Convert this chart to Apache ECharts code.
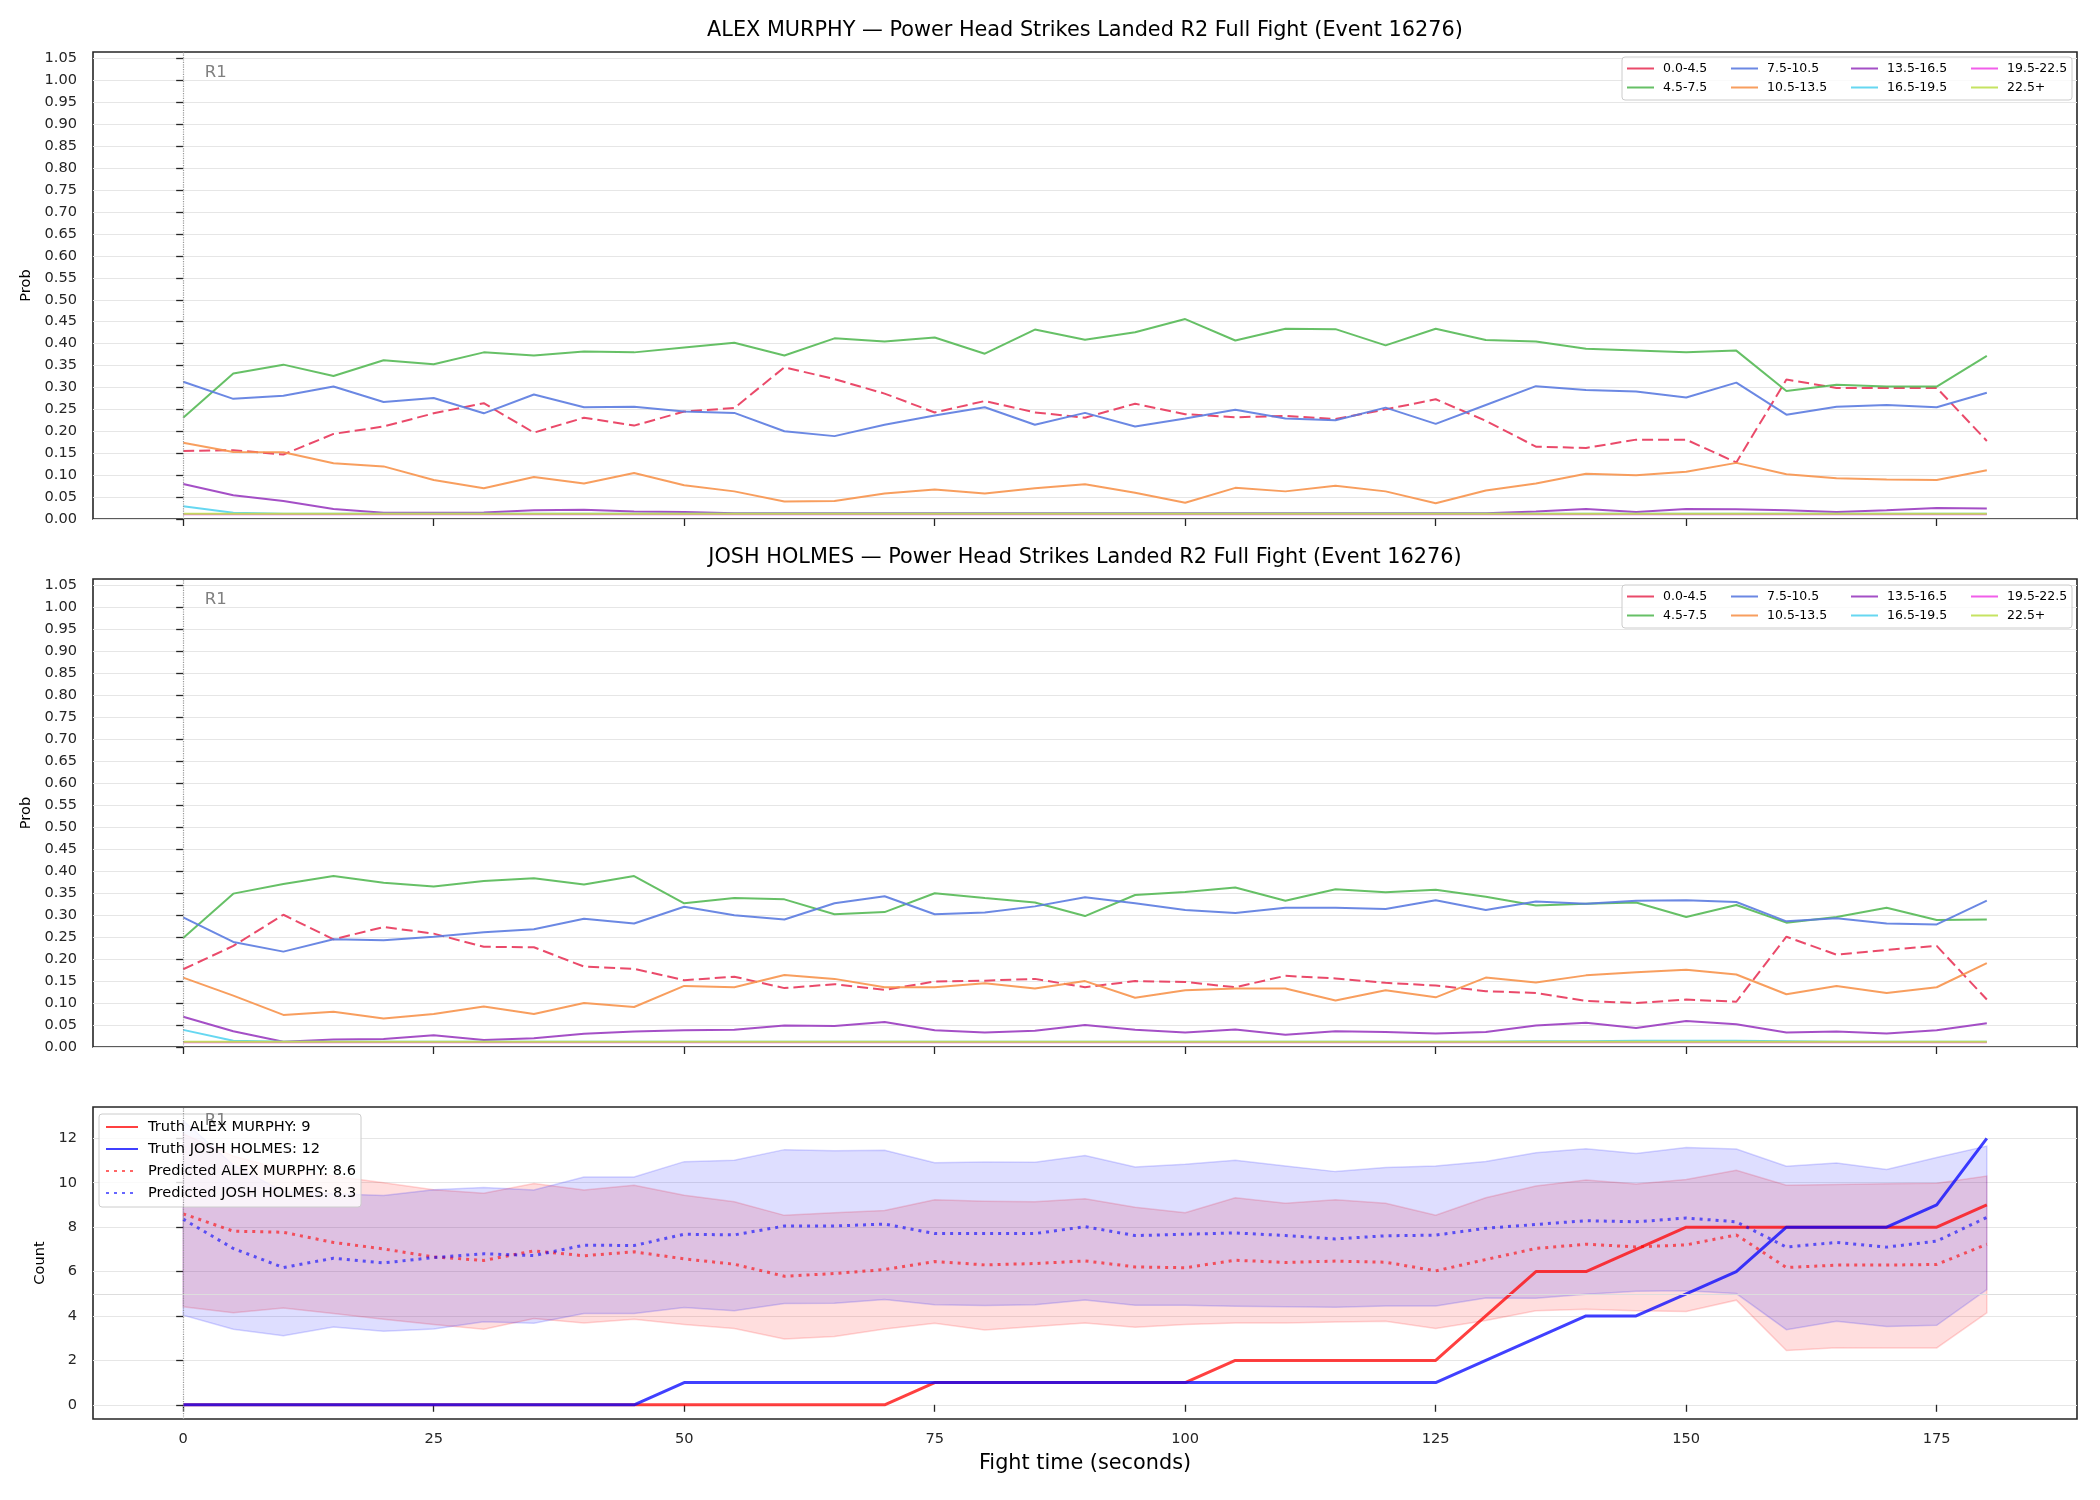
<!DOCTYPE html>
<html>
<head>
<meta charset="utf-8">
<title>Power Head Strikes Landed R2</title>
<script src="https://cdn.jsdelivr.net/npm/echarts@6/dist/echarts.min.js"></script>
<style>
  html, body { margin: 0; padding: 0; background: #fff; }
  #chart { width: 2100px; height: 1500px; }
</style>
</head>
<body>
<div id="chart"></div>
<script>
const EVENT_LABEL = 'Power Head Strikes Landed R2 Full Fight (Event 16276)';
const FIGHTERS = ['ALEX MURPHY', 'JOSH HOLMES'];

// fight time, seconds
const TIMES = [0, 5, 10, 15, 20, 25, 30, 35, 40, 45, 50, 55, 60, 65, 70, 75, 80, 85, 90,
  95, 100, 105, 110, 115, 120, 125, 130, 135, 140, 145, 150, 155, 160, 165, 170, 175, 180];
const X_TICKS = [0, 25, 50, 75, 100, 125, 150, 175];
const PROB_TICKS = [0, 0.05, 0.1, 0.15, 0.2, 0.25, 0.3, 0.35, 0.4, 0.45, 0.5, 0.55, 0.6, 0.65,
  0.7, 0.75, 0.8, 0.85, 0.9, 0.95, 1.0, 1.05];
const COUNT_TICKS = [0, 2, 4, 6, 8, 10, 12];
const ROUNDS = [{ t: 0, label: 'R1' }];

const BINS = ['0.0-4.5', '4.5-7.5', '7.5-10.5', '10.5-13.5', '13.5-16.5', '16.5-19.5', '19.5-22.5', '22.5+'];

// ALEX MURPHY bin probabilities
const A_0 = [0.155,0.157,0.147,0.194,0.211,0.241,0.264,0.197,0.231,0.213,0.245,0.253,0.346,0.319,0.286,0.243,0.269,0.243,0.231,0.263,0.239,0.232,0.235,0.228,0.250,0.273,0.224,0.165,0.162,0.181,0.181,0.129,0.318,0.299,0.299,0.299,0.178];
const A_1 = [0.231,0.332,0.352,0.326,0.362,0.353,0.380,0.373,0.382,0.380,0.391,0.402,0.373,0.412,0.405,0.414,0.377,0.432,0.409,0.426,0.456,0.407,0.434,0.433,0.396,0.434,0.408,0.405,0.388,0.384,0.380,0.384,0.292,0.306,0.302,0.302,0.372];
const A_2 = [0.313,0.274,0.281,0.302,0.267,0.276,0.241,0.284,0.255,0.256,0.245,0.242,0.200,0.189,0.215,0.236,0.255,0.215,0.242,0.211,0.229,0.249,0.229,0.225,0.254,0.217,0.260,0.303,0.294,0.291,0.277,0.311,0.238,0.256,0.260,0.255,0.288];
const A_3 = [0.174,0.153,0.152,0.127,0.120,0.089,0.070,0.096,0.081,0.105,0.077,0.063,0.040,0.041,0.058,0.067,0.058,0.070,0.079,0.060,0.037,0.071,0.063,0.076,0.063,0.036,0.065,0.081,0.103,0.100,0.108,0.128,0.102,0.093,0.090,0.089,0.111];
const A_4 = [0.080,0.054,0.041,0.023,0.014,0.014,0.015,0.020,0.021,0.017,0.016,0.013,0.013,0.013,0.013,0.013,0.013,0.013,0.013,0.013,0.013,0.013,0.013,0.013,0.013,0.013,0.013,0.017,0.023,0.016,0.023,0.022,0.020,0.016,0.020,0.025,0.024];
const A_5 = [0.029,0.014,0.012,0.012,0.012,0.012,0.012,0.012,0.012,0.012,0.012,0.012,0.012,0.012,0.012,0.012,0.012,0.012,0.012,0.012,0.012,0.012,0.012,0.012,0.012,0.012,0.012,0.012,0.012,0.012,0.012,0.012,0.012,0.012,0.012,0.012,0.012];
const A_6 = [0.011,0.011,0.011,0.011,0.011,0.011,0.011,0.011,0.011,0.011,0.011,0.011,0.011,0.011,0.011,0.011,0.011,0.011,0.011,0.011,0.011,0.011,0.011,0.011,0.011,0.011,0.011,0.011,0.011,0.011,0.011,0.011,0.011,0.011,0.011,0.011,0.011];
const A_7 = [0.012,0.012,0.012,0.012,0.012,0.012,0.012,0.012,0.012,0.012,0.012,0.012,0.012,0.012,0.012,0.012,0.012,0.012,0.012,0.012,0.012,0.012,0.012,0.012,0.012,0.012,0.012,0.012,0.012,0.012,0.012,0.012,0.012,0.012,0.012,0.012,0.012];

// JOSH HOLMES bin probabilities
const J_0 = [0.177,0.230,0.301,0.245,0.273,0.258,0.228,0.227,0.183,0.178,0.152,0.160,0.134,0.143,0.130,0.149,0.151,0.155,0.136,0.150,0.148,0.136,0.162,0.156,0.146,0.140,0.127,0.123,0.105,0.100,0.108,0.103,0.251,0.210,0.221,0.230,0.108];
const J_1 = [0.248,0.349,0.371,0.389,0.374,0.365,0.378,0.384,0.370,0.389,0.327,0.339,0.336,0.302,0.307,0.350,0.339,0.329,0.298,0.346,0.353,0.363,0.333,0.359,0.352,0.358,0.342,0.322,0.326,0.329,0.296,0.323,0.283,0.296,0.317,0.289,0.290];
const J_2 = [0.295,0.239,0.217,0.245,0.243,0.251,0.261,0.268,0.292,0.281,0.319,0.300,0.290,0.327,0.343,0.302,0.306,0.320,0.341,0.327,0.312,0.305,0.317,0.317,0.314,0.334,0.312,0.331,0.326,0.333,0.334,0.330,0.286,0.293,0.281,0.279,0.333];
const J_3 = [0.158,0.117,0.073,0.080,0.065,0.075,0.092,0.075,0.100,0.091,0.139,0.136,0.164,0.155,0.136,0.136,0.145,0.133,0.150,0.112,0.129,0.133,0.133,0.106,0.129,0.113,0.158,0.147,0.163,0.170,0.176,0.165,0.120,0.139,0.123,0.136,0.191];
const J_4 = [0.069,0.036,0.012,0.017,0.018,0.027,0.016,0.020,0.030,0.035,0.038,0.039,0.049,0.048,0.057,0.038,0.033,0.037,0.050,0.039,0.033,0.040,0.028,0.036,0.034,0.031,0.034,0.049,0.055,0.043,0.059,0.052,0.033,0.035,0.031,0.038,0.054];
const J_5 = [0.039,0.014,0.012,0.012,0.012,0.012,0.012,0.012,0.012,0.012,0.012,0.012,0.012,0.012,0.012,0.012,0.012,0.012,0.012,0.012,0.012,0.012,0.012,0.012,0.012,0.012,0.012,0.013,0.013,0.014,0.014,0.014,0.013,0.012,0.012,0.012,0.012];
const J_6 = [0.011,0.011,0.011,0.011,0.011,0.011,0.011,0.011,0.011,0.011,0.011,0.011,0.011,0.011,0.011,0.011,0.011,0.011,0.011,0.011,0.011,0.011,0.011,0.011,0.011,0.011,0.011,0.011,0.011,0.011,0.011,0.011,0.011,0.011,0.011,0.011,0.011];
const J_7 = [0.012,0.012,0.012,0.012,0.012,0.012,0.012,0.012,0.012,0.012,0.012,0.012,0.012,0.012,0.012,0.012,0.012,0.012,0.012,0.012,0.012,0.012,0.012,0.012,0.012,0.012,0.012,0.012,0.012,0.012,0.012,0.012,0.012,0.012,0.012,0.012,0.012];

// counts
const TRUTH_A = [0,0,0,0,0,0,0,0,0,0,0,0,0,0,0,1,1,1,1,1,1,2,2,2,2,2,4,6,6,7,8,8,8,8,8,8,9];
const TRUTH_J = [0,0,0,0,0,0,0,0,0,0,1,1,1,1,1,1,1,1,1,1,1,1,1,1,1,1,2,3,4,4,5,6,8,8,8,9,12];
const PRED_A = [8.60,7.82,7.77,7.31,7.02,6.66,6.50,6.93,6.71,6.89,6.57,6.33,5.79,5.91,6.09,6.45,6.30,6.36,6.48,6.21,6.17,6.51,6.41,6.47,6.42,6.03,6.54,7.04,7.23,7.11,7.20,7.65,6.18,6.29,6.29,6.32,7.23];
const PRED_J = [8.36,7.04,6.18,6.60,6.39,6.63,6.80,6.72,7.19,7.17,7.68,7.65,8.05,8.05,8.14,7.71,7.71,7.71,8.02,7.62,7.68,7.74,7.62,7.47,7.61,7.64,7.95,8.12,8.29,8.24,8.41,8.24,7.10,7.31,7.10,7.37,8.44];
const BAND_A_LO = [4.41,4.14,4.36,4.11,3.85,3.62,3.40,3.88,3.68,3.85,3.62,3.44,2.96,3.08,3.41,3.67,3.37,3.53,3.68,3.49,3.62,3.68,3.68,3.73,3.76,3.44,3.80,4.23,4.30,4.24,4.20,4.71,2.44,2.57,2.56,2.56,4.14];
const BAND_A_HI = [12.2,11.2,10.6,10.3,10.0,9.68,9.53,9.97,9.67,9.89,9.44,9.14,8.53,8.65,8.75,9.23,9.17,9.14,9.28,8.90,8.65,9.32,9.08,9.23,9.08,8.54,9.32,9.85,10.12,9.94,10.15,10.56,9.89,9.92,9.95,9.98,10.30];
const BAND_J_LO = [4.03,3.40,3.11,3.50,3.31,3.41,3.74,3.67,4.11,4.11,4.38,4.24,4.56,4.57,4.74,4.50,4.47,4.50,4.72,4.48,4.48,4.44,4.41,4.39,4.45,4.45,4.81,4.80,4.98,5.11,5.14,5.01,3.38,3.76,3.53,3.58,5.19];
const BAND_J_HI = [12.8,10.8,9.6,9.5,9.42,9.68,9.79,9.67,10.26,10.26,10.95,11.01,11.49,11.44,11.46,10.90,10.93,10.92,11.23,10.71,10.83,11.01,10.75,10.50,10.69,10.75,10.96,11.35,11.53,11.32,11.59,11.52,10.74,10.89,10.60,11.14,11.65];
const REF_LINE = 5;

const TOTAL_A = 9, TOTAL_J = 12, PRED_TOTAL_A = 8.6, PRED_TOTAL_J = 8.3;

const BIN_COLORS = ['#e8365a', '#55b955', '#5b7be0', '#f7944c', '#9a3cc0', '#55d3f0', '#f04ce8', '#c0e050'];
const FONT = 'DejaVu Sans';
const INK = '#262626';

const PROB_MAX = 1.065;
const COUNT_MIN = -0.64, COUNT_MAX = 13.41;

let pairs = (vals) => TIMES.map((t, i) => [t, vals[i]]);

let roundMarks = (yMin, yMax) => ({
  silent: true,
  symbol: 'circle',
  symbolSize: 1,
  itemStyle: { color: 'rgba(0,0,0,0)' },
  label: { show: true, position: 'right', distance: 21, color: '#808080', fontSize: 16.5, fontFamily: FONT },
  data: ROUNDS.map(r => ({ coord: [r.t, yMin + (yMax - yMin) * 0.956], label: { formatter: r.label } }))
});

let roundLines = (extra) => ({
  silent: true,
  symbol: 'none',
  label: { show: false },
  emphasis: { disabled: true },
  data: ROUNDS.map(r => ({ xAxis: r.t, lineStyle: { type: 'dotted', color: '#999', width: 1.2 } })).concat(extra || [])
});

let binSeries = (panel, probs) => BINS.map((name, i) => {
  let s = {
    name: name,
    type: 'line',
    xAxisIndex: panel,
    yAxisIndex: panel,
    data: pairs(probs[i]),
    symbol: 'none',
    z: 3,
    itemStyle: { color: BIN_COLORS[i] },
    lineStyle: { color: BIN_COLORS[i], width: 2, opacity: 0.9, type: i === 0 ? [11, 5] : 'solid' },
    emphasis: { disabled: true }
  };
  if (i === 0) {
    s.markLine = roundLines();
    s.markPoint = roundMarks(0, PROB_MAX);
  }
  return s;
});

// matplotlib style legend: 4 columns of 2, inside a shared box
const LEGEND_COLS = [['0.0-4.5', '4.5-7.5'], ['7.5-10.5', '10.5-13.5'], ['13.5-16.5', '16.5-19.5'], ['19.5-22.5', '22.5+']];
const LEGEND_COL_X = [1626, 1730, 1850, 1970];
const HIDE_SYMBOL = { color: 'rgba(0,0,0,0)', borderWidth: 0, opacity: 0 };

let binLegends = (boxTop) => LEGEND_COLS.map((col, c) => ({
  left: LEGEND_COL_X[c],
  top: boxTop + 2,
  orient: 'vertical',
  padding: 0,
  itemWidth: 27,
  itemHeight: 12,
  itemGap: 0,
  z: 6,
  itemStyle: HIDE_SYMBOL,
  data: col.map(n => n === '0.0-4.5' ? { name: n, lineStyle: { type: 'solid' } } : n),
  textStyle: { fontFamily: FONT, fontSize: 12.5, lineHeight: 19, color: '#000', padding: [0, 0, 0, 4] }
}));

let legendBox = (x, y, w, h) => ({
  type: 'rect', z: 5, silent: true,
  shape: { x: x, y: y, width: w, height: h, r: 3 },
  style: { fill: 'rgba(255,255,255,0.8)', stroke: '#cccccc', lineWidth: 1 }
});

let xAxis = (idx) => ({
  type: 'value',
  gridIndex: idx,
  min: -9,
  max: 189,
  axisLine: { show: false },
  axisTick: { show: true, customValues: X_TICKS, length: 7, lineStyle: { color: INK, width: 1.3 } },
  axisLabel: { show: idx === 2, customValues: X_TICKS, fontSize: 14.6, color: INK, margin: 13, fontFamily: FONT },
  splitLine: { show: false },
  name: idx === 2 ? 'Fight time (seconds)' : '',
  nameLocation: 'middle',
  nameGap: 34,
  nameTextStyle: { fontSize: 20.8, color: '#000', fontFamily: FONT }
});

let probAxis = (idx) => ({
  type: 'value',
  gridIndex: idx,
  min: 0,
  max: PROB_MAX,
  axisLine: { show: false },
  axisTick: { show: true, customValues: PROB_TICKS, length: 7, lineStyle: { color: INK, width: 1.3 } },
  axisLabel: { customValues: PROB_TICKS, fontSize: 14.6, color: INK, margin: 16, fontFamily: FONT,
    formatter: v => v.toFixed(2) },
  splitLine: { show: true, lineStyle: { color: '#e6e6e6', width: 1 } },
  name: 'Prob',
  nameLocation: 'middle',
  nameGap: 58,
  nameTextStyle: { fontSize: 14.6, color: '#000', fontFamily: FONT }
});

const COUNT_LEGEND = ['Truth ' + FIGHTERS[0] + ': ' + TOTAL_A, 'Truth ' + FIGHTERS[1] + ': ' + TOTAL_J,
  'Predicted ' + FIGHTERS[0] + ': ' + PRED_TOTAL_A, 'Predicted ' + FIGHTERS[1] + ': ' + PRED_TOTAL_J];

const option = {
  animation: false,
  backgroundColor: '#fff',
  textStyle: { fontFamily: FONT },
  graphic: [
    { type: 'text', x: 1085, y: 31, style: { text: FIGHTERS[0] + ' \u2014 ' + EVENT_LABEL, font: '20.8px "DejaVu Sans"', fill: '#000', textAlign: 'center', textVerticalAlign: 'middle' } },
    { type: 'text', x: 1085, y: 558, style: { text: FIGHTERS[1] + ' \u2014 ' + EVENT_LABEL, font: '20.8px "DejaVu Sans"', fill: '#000', textAlign: 'center', textVerticalAlign: 'middle' } },
    legendBox(1622, 57, 450, 43),
    legendBox(1622, 585, 450, 43),
    legendBox(99, 1114, 262, 93)
  ],
  grid: [
    { left: 93, top: 52, width: 1984, height: 467, show: true, borderColor: INK, borderWidth: 1.6, backgroundColor: 'transparent' },
    { left: 93, top: 579, width: 1984, height: 468, show: true, borderColor: INK, borderWidth: 1.6, backgroundColor: 'transparent' },
    { left: 93, top: 1107, width: 1984, height: 312, show: true, borderColor: INK, borderWidth: 1.6, backgroundColor: 'transparent' }
  ],
  xAxis: [xAxis(0), xAxis(1), xAxis(2)],
  yAxis: [
    probAxis(0),
    probAxis(1),
    {
      type: 'value',
      gridIndex: 2,
      min: COUNT_MIN,
      max: COUNT_MAX,
      axisLine: { show: false },
      axisTick: { show: true, customValues: COUNT_TICKS, length: 7, lineStyle: { color: INK, width: 1.3 } },
      axisLabel: { customValues: COUNT_TICKS, fontSize: 14.6, color: INK, margin: 16, fontFamily: FONT },
      splitLine: { show: true, lineStyle: { color: '#e6e6e6', width: 1 } },
      name: 'Count',
      nameLocation: 'middle',
      nameGap: 45,
      nameTextStyle: { fontSize: 14.6, color: '#000', fontFamily: FONT }
    }
  ],
  legend: binLegends(57).concat(binLegends(585)).concat([{
    left: 105,
    top: 1116,
    orient: 'vertical',
    padding: 0,
    itemWidth: 32,
    itemHeight: 12,
    itemGap: 0,
    z: 6,
    itemStyle: HIDE_SYMBOL,
    data: COUNT_LEGEND,
    textStyle: { fontFamily: FONT, fontSize: 14.6, lineHeight: 22, color: '#000', padding: [0, 0, 0, 5] }
  }]),
  series: []
};

option.series = option.series
  .concat(binSeries(0, [A_0, A_1, A_2, A_3, A_4, A_5, A_6, A_7]))
  .concat(binSeries(1, [J_0, J_1, J_2, J_3, J_4, J_5, J_6, J_7]));

// predicted ranges, drawn as one polygon each through the axis scales
let band = (name, lo, hi, rgb, extraLines) => ({
  name: name,
  type: 'custom',
  xAxisIndex: 2,
  yAxisIndex: 2,
  z: 1,
  silent: true,
  data: TIMES.map((t, i) => [t, lo[i], hi[i]]),
  encode: { x: 0, y: [1, 2] },
  renderItem: (params, api) => {
    if (params.dataIndex !== 0) return null;
    let top = TIMES.map((t, i) => api.coord([t, hi[i]]));
    let bottom = TIMES.map((t, i) => api.coord([t, lo[i]])).reverse();
    return {
      type: 'polygon',
      shape: { points: top.concat(bottom) },
      style: { fill: 'rgba(' + rgb + ',0.13)', stroke: 'rgba(' + rgb + ',0.16)', lineWidth: 1.5 }
    };
  },
  markLine: extraLines
});

option.series.push(
  band('bandA', BAND_A_LO, BAND_A_HI, '255,0,0', {
    silent: true, symbol: 'none', label: { show: false }, emphasis: { disabled: true },
    data: [{ yAxis: REF_LINE, lineStyle: { type: 'solid', color: '#dddddd', width: 1 } }]
  }),
  band('bandJ', BAND_J_LO, BAND_J_HI, '0,0,255')
);

option.series.push(
  {
    name: COUNT_LEGEND[0], type: 'line', xAxisIndex: 2, yAxisIndex: 2, z: 4,
    data: pairs(TRUTH_A), symbol: 'none', emphasis: { disabled: true },
    itemStyle: { color: '#ff0000', opacity: 0.75 },
    lineStyle: { color: '#ff0000', width: 3, opacity: 0.75 },
    markLine: roundLines(),
    markPoint: roundMarks(COUNT_MIN, COUNT_MAX)
  },
  {
    name: COUNT_LEGEND[1], type: 'line', xAxisIndex: 2, yAxisIndex: 2, z: 4,
    data: pairs(TRUTH_J), symbol: 'none', emphasis: { disabled: true },
    itemStyle: { color: '#0000ff', opacity: 0.75 },
    lineStyle: { color: '#0000ff', width: 3, opacity: 0.75 }
  },
  {
    name: COUNT_LEGEND[2], type: 'line', xAxisIndex: 2, yAxisIndex: 2, z: 4,
    data: pairs(PRED_A), symbol: 'none', emphasis: { disabled: true },
    itemStyle: { color: '#ff0000', opacity: 0.6 },
    lineStyle: { color: '#ff0000', width: 3, opacity: 0.6, type: [3, 5] }
  },
  {
    name: COUNT_LEGEND[3], type: 'line', xAxisIndex: 2, yAxisIndex: 2, z: 4,
    data: pairs(PRED_J), symbol: 'none', emphasis: { disabled: true },
    itemStyle: { color: '#0000ff', opacity: 0.6 },
    lineStyle: { color: '#0000ff', width: 3, opacity: 0.6, type: [3, 5] }
  }
);

let myChart = echarts.init(document.getElementById('chart'), null, { renderer: 'canvas' });
myChart.setOption(option);
</script>
</body>
</html>
